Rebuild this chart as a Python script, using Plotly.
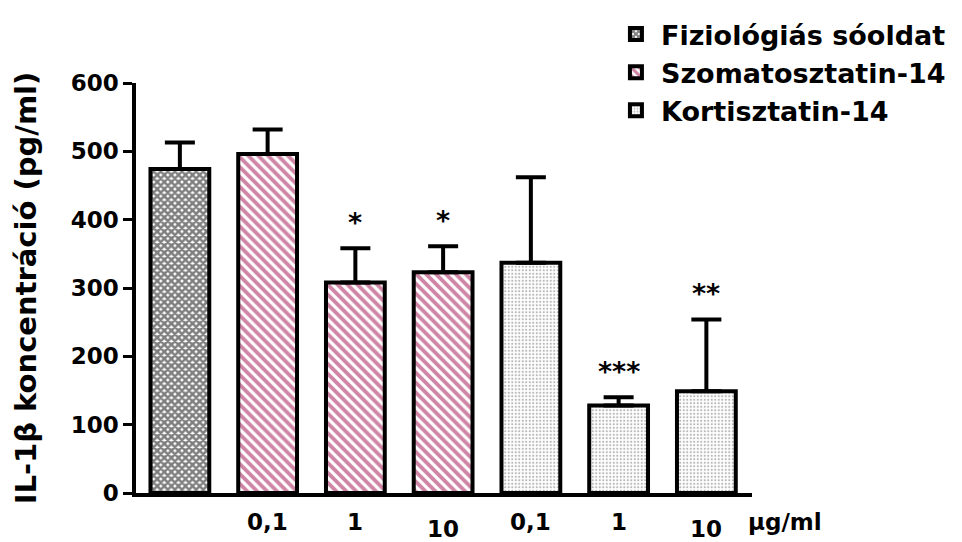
import plotly.graph_objects as go

# ---- data ----
group_names = ["Fiziológiás sóoldat", "Szomatosztatin-14", "Kortisztatin-14"]
dose_labels = ["", "0,1", "1", "10", "0,1", "1", "10"]
bar_group = [0, 1, 1, 1, 2, 2, 2]
means = [474, 496, 308, 323, 337, 128, 149]
sems = [39, 36, 50, 38, 125, 12, 105]
signif = ["", "", "*", "*", "", "***", "**"]
unit_label = "µg/ml"

FONT = "DejaVu Sans"
patterns = [
    dict(shape="x", fgcolor="black", bgcolor="white", size=5, solidity=0.75),
    dict(shape="\\", fgcolor="#A00C4C", bgcolor="white", size=7, solidity=0.55),
    dict(shape=".", fgcolor="#707070", bgcolor="white", size=3.5, solidity=0.3),
]

positions = list(range(len(dose_labels)))

fig = go.Figure()
for g, name in enumerate(group_names):
    idx = [i for i in positions if bar_group[i] == g]
    fig.add_trace(go.Bar(
        x=[positions[i] for i in idx],
        y=[means[i] for i in idx],
        name=name,
        width=0.67,
        marker=dict(color="white", pattern=patterns[g],
                    line=dict(color="black", width=4)),
        error_y=dict(type="data", array=[sems[i] for i in idx],
                     arrayminus=[0] * len(idx), symmetric=False,
                     color="black", thickness=4, width=15),
    ))

# significance markers
for i in positions:
    if signif[i]:
        fig.add_annotation(x=positions[i], y=means[i] + sems[i], text=signif[i],
                           showarrow=False, yanchor="bottom", yshift=8,
                           font=dict(family=FONT, size=27, color="black", weight="bold"))

# dose labels under the bars
for i in positions:
    if dose_labels[i]:
        fig.add_annotation(x=positions[i], y=0, yref="y", text=dose_labels[i],
                           showarrow=False, yanchor="top",
                           yshift=-14 - (7 if dose_labels[i] == "10" else 0),
                           font=dict(family=FONT, size=23, color="black", weight="bold"))
fig.add_annotation(x=positions[-1], y=0, yref="y", text=unit_label,
                   showarrow=False, xanchor="left", yanchor="top", xshift=40, yshift=-14,
                   font=dict(family=FONT, size=23, color="black", weight="bold"))

fig.update_layout(
    width=962, height=542,
    margin=dict(l=128, r=218, t=75, b=57, autoexpand=False),
    paper_bgcolor="white", plot_bgcolor="white",
    showlegend=True,
    legend=dict(x=0.771, y=1.178, xanchor="left", yanchor="top",
                font=dict(family=FONT, size=27, color="black", weight="bold"),
                bgcolor="rgba(0,0,0,0)", itemwidth=40,
                tracegroupgap=0),
    font=dict(family=FONT, color="black"),
)
fig.update_xaxes(range=[-0.5, 6.52], showticklabels=False, ticks="",
                 showline=True, linecolor="black", linewidth=4,
                 showgrid=False, zeroline=False)
fig.update_yaxes(range=[0, 600], tickvals=[0, 100, 200, 300, 400, 500, 600],
                 ticks="outside", ticklen=9, tickwidth=3, tickcolor="black",
                 showline=True, linecolor="black", linewidth=3.5,
                 showgrid=False, zeroline=False,
                 tickfont=dict(family=FONT, size=23, color="black", weight="bold"),
                 title=dict(text="IL-1β koncentráció (pg/ml)",
                            font=dict(family=FONT, size=29, color="black", weight="bold"),
                            standoff=26))

fig.write_html("out.html")
